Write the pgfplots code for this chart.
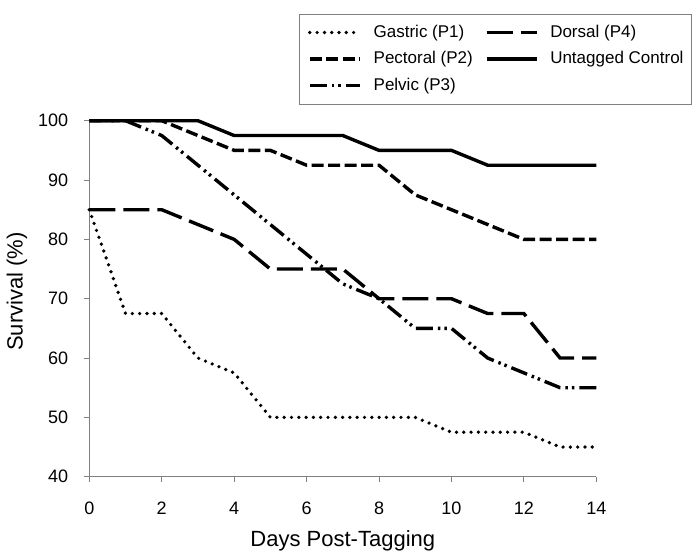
\documentclass[border=0pt]{standalone}
\usepackage{fontspec}
\setmainfont{Liberation Sans}
\usepackage{pgfplots}
\pgfplotsset{compat=1.18}

% line styles of the five groups
\tikzset{
  gastric/.style={black, line width=3.7bp, line cap=round, dash pattern=on 0bp off 7.3bp},
  pectoral/.style={black, line width=3.4bp, dash pattern=on 12bp off 4.5bp},
  pelvic/.style={black, line width=3.4bp, dash pattern=on 17bp off 5bp on 2.5bp off 4bp on 2.5bp off 5bp},
  dorsal/.style={black, line width=3.4bp, dash pattern=on 26bp off 8bp},
  control/.style={black, line width=3.4bp},
}

\begin{document}
\begin{tikzpicture}
\path[use as bounding box] (0,0) rectangle (700bp,560bp);
\begin{axis}[
    at={(89.3bp,83.3bp)}, anchor=south west,
    scale only axis, width=507bp, height=356bp,
    xmin=0, xmax=14, ymin=40, ymax=100,
    xtick={0,2,...,14}, ytick={40,50,...,100},
    axis lines*=left,
    axis line style={draw=gray, line width=1.2bp},
    tick style={draw=gray, line width=1bp},
    tick align=outside, major tick length=5bp,
    clip=false,
    /pgf/number format/assume math mode=true,
    xticklabel style={font=\fontsize{18bp}{20bp}\selectfont, anchor=base, inner sep=0pt, yshift=-32.8bp},
    yticklabel style={font=\fontsize{18bp}{20bp}\selectfont, anchor=east, inner sep=0pt, xshift=-16bp},
    xlabel={Days Post-Tagging},
    ylabel={Survival (\%)},
    every axis x label/.style={at={(axis description cs:0.5,-0.1966)}, anchor=base, font=\fontsize{22bp}{24bp}\selectfont},
    every axis y label/.style={at={(axis description cs:-0.1426,0.52)}, anchor=center, rotate=90, font=\fontsize{22bp}{24bp}\selectfont},
    legend columns=2,
    legend cell align=left,
    legend image code/.code={\draw[#1] (0bp,0bp) -- (50bp,0bp);},
    legend style={
      at={(axis description cs:1.1888,1.3011)}, anchor=north east,
      draw=gray, line width=1bp,
      font=\fontsize{17bp}{20bp}\selectfont,
      inner xsep=8bp, inner ysep=10bp,
      column sep=12bp, row sep=9.5bp,
      nodes={inner sep=0pt, text height=13bp, text depth=4bp},
    },
  ]
  \addplot[gastric] coordinates {
    (0,85) (1,67.5) (2,67.5) (3,60) (4,57.5) (5,50) (6,50) (7,50) (8,50) (9,50)
    (10,47.5) (11,47.5) (12,47.5) (13,45) (14,45)
  };
  \addlegendentry{Gastric (P1)}

  \addplot[dorsal] coordinates {
    (0,85) (1,85) (2,85) (3,82.5) (4,80) (5,75) (6,75) (7,75) (8,70) (9,70)
    (10,70) (11,67.5) (12,67.5) (13,60) (14,60)
  };
  \addlegendentry{Dorsal (P4)}

  \addplot[pectoral] coordinates {
    (0,100) (1,100) (2,100) (3,97.5) (4,95) (5,95) (6,92.5) (7,92.5) (8,92.5) (9,87.5)
    (10,85) (11,82.5) (12,80) (13,80) (14,80)
  };
  \addlegendentry{Pectoral (P2)}

  \addplot[control] coordinates {
    (0,100) (1,100) (2,100) (3,100) (4,97.5) (5,97.5) (6,97.5) (7,97.5) (8,95) (9,95)
    (10,95) (11,92.5) (12,92.5) (13,92.5) (14,92.5)
  };
  \addlegendentry{Untagged Control}

  \addplot[pelvic] coordinates {
    (0,100) (1,100) (2,97.5) (3,92.5) (4,87.5) (5,82.5) (6,77.5) (7,72.5) (8,70) (9,65)
    (10,65) (11,60) (12,57.5) (13,55) (14,55)
  };
  \addlegendentry{Pelvic (P3)}
\end{axis}
\end{tikzpicture}
\end{document}
